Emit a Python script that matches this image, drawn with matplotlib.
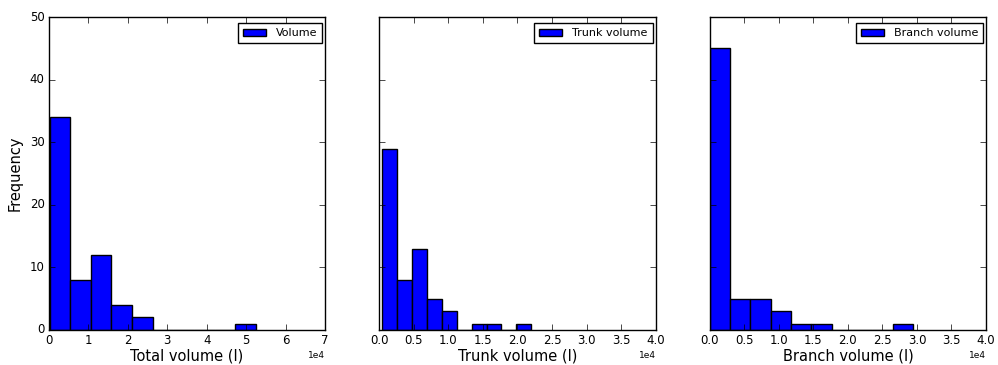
import numpy as np
import matplotlib
matplotlib.use('Agg')
import matplotlib.pyplot as plt

# histogram counts per bin (10 bins each) and the data range they span
total_counts = [34, 8, 12, 4, 2, 0, 0, 0, 0, 1]
total_range = (200, 52400)
trunk_counts = [29, 8, 13, 5, 3, 0, 1, 1, 0, 1]
trunk_range = (430, 22000)
branch_counts = [45, 5, 5, 3, 1, 1, 0, 0, 0, 1]
branch_range = (0, 29400)

labels = ['Volume', 'Trunk volume', 'Branch volume']
xlabels = ['Total volume (l)', 'Trunk volume (l)', 'Branch volume (l)']
xlims = [(0, 70000), (0, 40000), (0, 40000)]

plt.style.use('classic')
fig, axes = plt.subplots(1, 3, figsize=(9.98, 3.65), dpi=100, sharey=True)
fig.patch.set_facecolor('white')
fig.subplots_adjust(left=0.049, right=0.988, bottom=0.096, top=0.953, wspace=0.196)

panels = [(total_counts, total_range), (trunk_counts, trunk_range), (branch_counts, branch_range)]
for ax, (counts, rng), lab, xl, lim in zip(axes, panels, labels, xlabels, xlims):
    edges = np.linspace(rng[0], rng[1], len(counts) + 1)
    ax.hist(edges[:-1], bins=edges, weights=counts, color='b', edgecolor='black',
            linewidth=1, label=lab)
    ax.set_xlim(*lim)
    ax.set_ylim(0, 50)
    ax.set_xlabel(xl, fontsize=10.5, labelpad=1)
    ax.ticklabel_format(axis='x', style='sci', scilimits=(0, 0))
    ax.xaxis.get_offset_text().set_fontsize(6.5)
    ax.tick_params(labelsize=8.5, pad=3)
    ax.legend(loc='upper right', bbox_to_anchor=(0.99, 0.98), borderaxespad=0,
              fontsize=8, handlelength=2.1, borderpad=0.45, handletextpad=0.9)

axes[0].set_ylabel('Frequency', fontsize=10.5)
axes[0].set_yticks([0, 10, 20, 30, 40, 50])

plt.savefig('out.png', dpi=100, facecolor='white')
